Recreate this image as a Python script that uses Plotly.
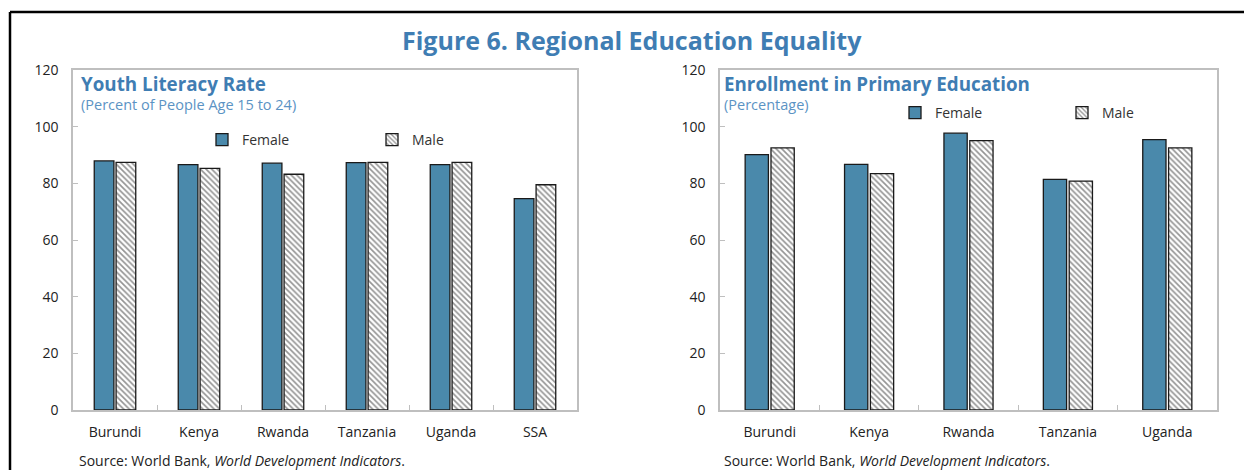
import plotly.graph_objects as go

# data
lit_countries = ['Burundi', 'Kenya', 'Rwanda', 'Tanzania', 'Uganda', 'SSA']
lit_female = [87.9, 86.6, 87.1, 87.3, 86.6, 74.6]
lit_male = [87.4, 85.3, 83.2, 87.4, 87.4, 79.5]

enr_countries = ['Burundi', 'Kenya', 'Rwanda', 'Tanzania', 'Uganda']
enr_female = [90.1, 86.7, 97.7, 81.4, 95.4]
enr_male = [92.5, 83.4, 95.1, 80.8, 92.5]

W, H = 1244, 470
BLUE = '#4a89ab'
TITLE_BLUE = '#3f7db3'
FONT = 'Open Sans'


def px_x(p):
    return p / W


def px_y(p):
    return 1 - p / H


fig = go.Figure()

male_marker = dict(color='white', line=dict(color='#1a1a1a', width=1.3),
                   pattern=dict(shape='\\', fgcolor='#2a2a2a', bgcolor='white',
                                size=4, solidity=0.42))
female_marker = dict(color=BLUE, line=dict(color='#1a1a1a', width=1.3))

# left panel
fig.add_trace(go.Bar(x=lit_countries, y=lit_female, name='Female', marker=female_marker,
                     xaxis='x', yaxis='y', legend='legend'))
fig.add_trace(go.Bar(x=lit_countries, y=lit_male, name='Male', marker=male_marker,
                     xaxis='x', yaxis='y', legend='legend'))

# right panel
fig.add_trace(go.Bar(x=enr_countries, y=enr_female, name='Female', marker=female_marker,
                     xaxis='x2', yaxis='y2', legend='legend2'))
fig.add_trace(go.Bar(x=enr_countries, y=enr_male, name='Male', marker=male_marker,
                     xaxis='x2', yaxis='y2', legend='legend2'))

axis_common = dict(showline=True, linecolor='#bfbfbf', linewidth=1.5, mirror=True,
                   showgrid=False, zeroline=False, automargin=False,
                   tickfont=dict(family=FONT, size=14, color='#222222'))

xcommon = dict(axis_common, ticks='inside', ticklen=5, tickcolor='#bfbfbf',
               tickson='boundaries', ticklabelstandoff=8)
ycommon = dict(axis_common, range=[0, 120], dtick=20, ticks='inside', ticklen=5,
               tickcolor='#bfbfbf', ticklabelstandoff=10)

legend_common = dict(orientation='h', bgcolor='rgba(0,0,0,0)', entrywidth=125,
                     entrywidthmode='pixels', yanchor='middle', xanchor='left',
                     font=dict(family=FONT, size=14, color='#333333'),
                     itemclick=False, traceorder='normal')

fig.update_layout(
    width=W, height=H,
    margin=dict(l=0, r=0, t=0, b=0, autoexpand=False),
    paper_bgcolor='white', plot_bgcolor='white',
    barmode='group', bargap=0.48, bargroupgap=0.1,
    xaxis=dict(xcommon, domain=[px_x(73), px_x(577)], anchor='y'),
    yaxis=dict(ycommon, domain=[px_y(410), px_y(70)], anchor='x'),
    xaxis2=dict(xcommon, domain=[px_x(720), px_x(1217)], anchor='y2'),
    yaxis2=dict(ycommon, domain=[px_y(410), px_y(70)], anchor='x2'),
    legend=dict(legend_common, x=px_x(202), y=px_y(140)),
    legend2=dict(legend_common, x=px_x(895), y=px_y(113), entrywidth=122),
    showlegend=True,
)

# titles
fig.add_annotation(text='<b>Figure 6. Regional Education Equality</b>',
                   x=px_x(632), y=px_y(40), xref='paper', yref='paper',
                   showarrow=False, xanchor='center', yanchor='middle',
                   font=dict(family=FONT, size=25, color=TITLE_BLUE))

panel_titles = [
    ('Youth Literacy Rate', '(Percent of People Age 15 to 24)', 79),
    ('Enrollment in Primary Education', '(Percentage)', 722),
]
for title, sub, x0 in panel_titles:
    fig.add_annotation(text='<b>' + title + '</b>', x=px_x(x0), y=px_y(84),
                       xref='paper', yref='paper', showarrow=False,
                       xanchor='left', yanchor='middle',
                       font=dict(family=FONT, size=18.8, color=TITLE_BLUE))
    fig.add_annotation(text=sub, x=px_x(x0), y=px_y(105),
                       xref='paper', yref='paper', showarrow=False,
                       xanchor='left', yanchor='middle',
                       font=dict(family=FONT, size=14.5, color='#5b93c4'))

for x0 in (77, 722):
    fig.add_annotation(text='Source: World Bank, <i>World Development Indicators</i>.',
                       x=px_x(x0), y=px_y(460), xref='paper', yref='paper',
                       showarrow=False, xanchor='left', yanchor='middle',
                       font=dict(family=FONT, size=14, color='#222222'))

# outer frame (top and left edges)
fig.add_shape(type='line', xref='paper', yref='paper',
              x0=px_x(10), x1=1, y0=px_y(12), y1=px_y(12),
              line=dict(color='black', width=2.5))
fig.add_shape(type='line', xref='paper', yref='paper',
              x0=px_x(10), x1=px_x(10), y0=px_y(12), y1=0,
              line=dict(color='black', width=2.5))

# drop the default page margin so the figure sits at the window's corner
fig.write_html('out.html', config={'displayModeBar': False},
               post_script="document.body.style.margin='0';"
                           "document.documentElement.style.overflow='hidden';")
